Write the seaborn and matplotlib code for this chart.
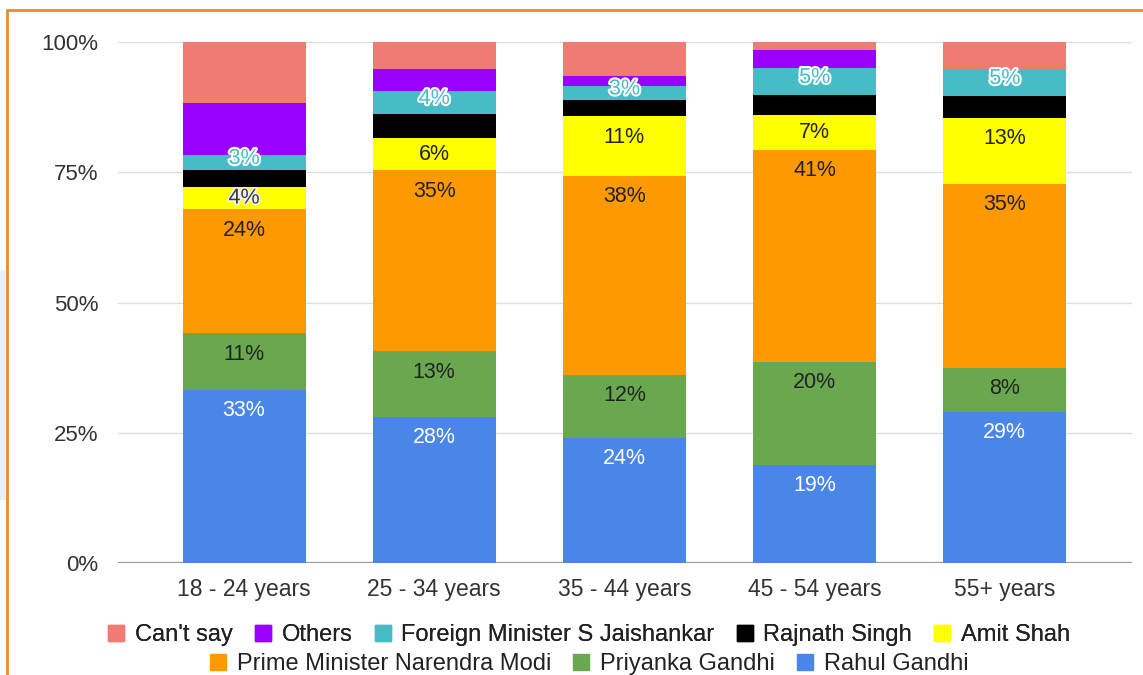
import matplotlib
matplotlib.use("Agg")
import matplotlib.pyplot as plt
import matplotlib.patheffects as pe
from matplotlib.lines import Line2D
from matplotlib.patches import Rectangle
import numpy as np
import pandas as pd
import seaborn as sns

# ---------------- data ----------------
ages = ["18 - 24 years", "25 - 34 years", "35 - 44 years", "45 - 54 years", "55+ years"]
rahul = [33.2, 28.0, 24.0, 18.8, 29.0]
priyanka = [10.9, 12.6, 12.1, 19.8, 8.4]
modi = [23.8, 34.8, 38.2, 40.7, 35.4]
amit = [4.3, 6.1, 11.4, 6.6, 12.6]
rajnath = [3.2, 4.7, 3.2, 3.9, 4.2]
jaishankar = [2.9, 4.3, 2.6, 5.2, 5.2]
others = [10.0, 4.3, 1.9, 3.5, 0.0]
cant_say = [11.7, 5.2, 6.6, 1.5, 5.2]

series_names = ["Rahul Gandhi", "Priyanka Gandhi", "Prime Minister Narendra Modi", "Amit Shah",
                "Rajnath Singh", "Foreign Minister S Jaishankar", "Others", "Can't say"]
series_values = [rahul, priyanka, modi, amit, rajnath, jaishankar, others, cant_say]
series_colors = ["#4A86E8", "#6AA84F", "#FF9900", "#FFFF00", "#000000", "#46BDC6", "#9900FF", "#F07B72"]
labelled = {"Rahul Gandhi", "Priyanka Gandhi", "Prime Minister Narendra Modi", "Amit Shah",
            "Foreign Minister S Jaishankar"}
legend_row1 = ["Can't say", "Others", "Foreign Minister S Jaishankar", "Rajnath Singh", "Amit Shah"]
legend_row2 = ["Prime Minister Narendra Modi", "Priyanka Gandhi", "Rahul Gandhi"]
yticks = [0, 25, 50, 75, 100]

# ---------------- plot ----------------
sns.set_theme(style="white")
plt.rcParams["font.family"] = ["Liberation Sans", "DejaVu Sans"]

fig = plt.figure(figsize=(11.43, 6.75), dpi=100)
ax = fig.add_axes([0.1032, 0.1659, 0.887, 0.7719])

vals = np.array(series_values)
cum = np.cumsum(vals, axis=0)
bar_w = 0.647

# grid lines behind bars
for t in yticks:
    ax.axhline(t, color="#999999" if t == 0 else "#DDDDDD", lw=1.6 if t == 0 else 1.0, zorder=0)

# draw cumulative stacks from top series down, so each lower series overlays
for i in range(len(series_names) - 1, -1, -1):
    df = pd.DataFrame({"age": ages, "v": cum[i]})
    sns.barplot(data=df, x="age", y="v", color=series_colors[i], saturation=1,
                width=bar_w, ax=ax, errorbar=None, order=ages, zorder=2 + (8 - i) * 0.01,
                edgecolor="none", linewidth=0)

# data labels
LFS = 15.5
for i, name in enumerate(series_names):
    if name not in labelled:
        continue
    for j in range(len(ages)):
        v = vals[i, j]
        if v <= 0:
            continue
        top = cum[i, j]
        y = top - min(4.0, v * 0.5)
        txt = f"{v:.0f}%"
        if name == "Rahul Gandhi":
            ax.text(j, y, txt, ha="center", va="center", fontsize=LFS, color="white", zorder=5)
        elif name == "Foreign Minister S Jaishankar":
            ax.text(j, y + 0.8, txt, ha="center", va="center", fontsize=LFS, color=series_colors[i],
                    zorder=5, path_effects=[pe.withStroke(linewidth=3, foreground="white")])
        else:
            kw = {}
            if v < 5:
                kw["path_effects"] = [pe.withStroke(linewidth=2.5, foreground="#F2F2F2")]
                col = "#3A3A3A"
            else:
                col = "#222222"
            ax.text(j, y, txt, ha="center", va="center", fontsize=LFS, color=col, zorder=5, **kw)

ax.set_xlim(-0.663, 4.668)
ax.set_ylim(0, 100)
ax.set_yticks(yticks)
ax.set_yticklabels([f"{t}%" for t in yticks])
ax.set_xlabel("")
ax.set_ylabel("")
for s in ax.spines.values():
    s.set_visible(False)
ax.tick_params(axis="both", length=0, labelsize=16, colors="#333333")
ax.tick_params(axis="x", labelsize=16.5)
ax.tick_params(axis="y", pad=14)
ax.tick_params(axis="x", pad=11)

# legend in two rows
color_of = dict(zip(series_names, series_colors))
def handles(names):
    return [Line2D([0], [0], marker="s", linestyle="none", markersize=11.5,
                   markerfacecolor=color_of[n], markeredgecolor=color_of[n]) for n in names]

leg_kw = dict(loc="center", frameon=False, fontsize=17, handlelength=0.75, handletextpad=0.42,
              columnspacing=0.9, labelcolor="#222222")
leg1 = fig.legend(handles(legend_row1), legend_row1, bbox_to_anchor=(0.515, 0.059), ncol=5, **leg_kw)
fig.add_artist(leg1)
leg2 = fig.legend(handles(legend_row2), legend_row2, bbox_to_anchor=(0.515, 0.016), ncol=3, **leg_kw)

# frame decorations (orange border at top and left, faint grey shape at far left)
fig.add_artist(Rectangle((0, 1 - 500 / 675), 6 / 1143, 230 / 675, transform=fig.transFigure,
                         facecolor="#EFEFF1", edgecolor="none", zorder=0))
fig.add_artist(Line2D([7 / 1143, 1], [1 - 10 / 675, 1 - 10 / 675], transform=fig.transFigure,
                      color="#EE8A2B", lw=2))
fig.add_artist(Line2D([7 / 1143, 7 / 1143], [0, 1 - 10 / 675], transform=fig.transFigure,
                      color="#EE8A2B", lw=2))

fig.savefig("out.png", dpi=100)
